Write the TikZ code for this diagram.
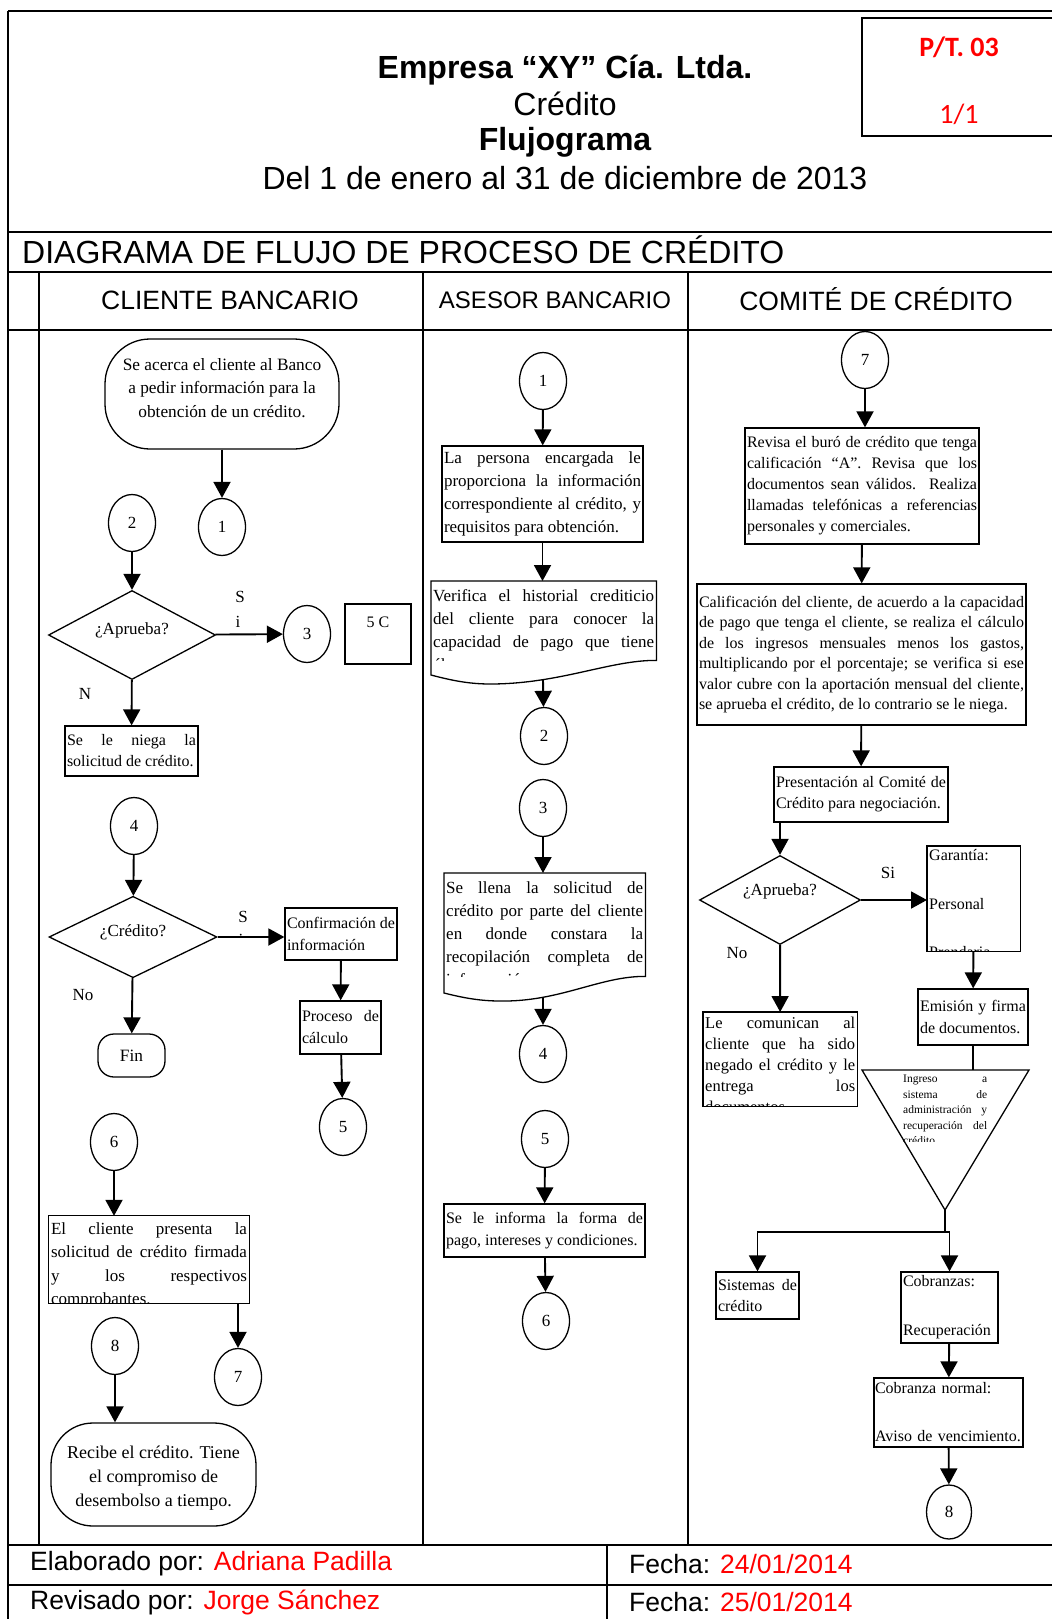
\documentclass[tikz,border=0pt]{standalone}
\usepackage{fontspec}
\setmainfont{Liberation Serif}
\newfontfamily\arialfont{Liberation Sans}
\newfontfamily\calibrifont{Carlito}
\usepackage{tikz}
\usetikzlibrary{arrows.meta}
\usetikzlibrary{shapes.geometric}
\usetikzlibrary{positioning}
\hyphenpenalty=10000
\exhyphenpenalty=10000
\tolerance=10000
\tikzset{gridline/.style = {line width = 1.3pt}}
\tikzset{shapeline/.style = {line width = 1.3pt}}
\tikzset{procbox/.style = {draw, rectangle, line width = 1.3pt, inner xsep = 2pt, inner ysep = 3pt,
                           align = justify, font = \fontsize{16}{21}\selectfont}}
\tikzset{txt/.style = {rectangle, inner xsep = 2pt, inner ysep = 3pt, align = justify,
                       font = \fontsize{16}{21}\selectfont}}
\tikzset{textarea/.style = {rectangle, inner sep = 0}}
\tikzset{termbox/.style = {draw, rectangle, line width = 1.3pt}}
\tikzset{termtext/.style = {inner sep = 0, align = center, font = \fontsize{17.3}{23.5}\selectfont}}
\tikzset{linkcircle/.style = {draw, ellipse, line width = 1.3pt, inner sep = 0,
                              minimum width = 47, minimum height = 57,
                              font = \fontsize{17}{20}\selectfont}}
\tikzset{askbox/.style = {draw, diamond, line width = 1.3pt, inner sep = 0,
                          font = \fontsize{17}{20}\selectfont}}
\tikzset{flow/.style = {-{Triangle[width = 17pt, length = 16pt]}, line width = 1.9pt}}
\tikzset{joint/.style = {line width = 1.9pt}}
\tikzset{lbl/.style = {inner sep = 0, font = \fontsize{17}{20}\selectfont}}
\tikzset{head/.style = {inner sep = 0, font = \arialfont\fontsize{32}{38}\selectfont}}
\tikzset{lane/.style = {inner sep = 0, font = \arialfont\fontsize{26.5}{30}\selectfont}}
\tikzset{foot/.style = {anchor = west, inner sep = 0, font = \arialfont\fontsize{26.5}{30}\selectfont}}
\tikzset{pagecode/.style = {inner sep = 0, text = red, font = \calibrifont\fontsize{28}{32}\selectfont}}
\newcommand{\liftup}[2]{\raisebox{#1}[\height][\depth]{#2}}

\begin{document}
\begin{tikzpicture}[x = 1pt, y = -1pt]
      \useasboundingbox (0, 0) rectangle (1052, 1619);

      \draw [gridline] (8, 11) -- (1052, 11);
      \draw [gridline] (8, 11) -- (8, 1619);
      \draw [gridline] (8, 232) -- (1052, 232);
      \draw [gridline] (8, 272) -- (1052, 272);
      \draw [gridline] (8, 330) -- (1052, 330);
      \draw [gridline] (39, 272) -- (39, 1545);
      \draw [gridline] (423, 272) -- (423, 1545);
      \draw [gridline] (688, 272) -- (688, 1545);
      \draw [gridline] (8, 1545) -- (1052, 1545);
      \draw [gridline] (8, 1585) -- (1052, 1585);
      \draw [gridline] (607, 1545) -- (607, 1619);
      \draw [gridline] (1052, 18) -- (862, 18) -- (862, 136) -- (1052, 136);

      \node [head, font = \arialfont\bfseries\fontsize{32}{38}\selectfont] (firm) at (565, 70) {Empresa “XY” Cía. Ltda.};
      \node [head] (area) at (565, 104) {Crédito};
      \node [head, font = \arialfont\bfseries\fontsize{32}{38}\selectfont] (kind) at (565, 142) {Flujograma};
      \node [head] (period) at (565, 178) {Del 1 de enero al 31 de diciembre de 2013};
      \node [pagecode, font = \calibrifont\bfseries\fontsize{28}{32}\selectfont] (ref) at (959, 47) {P/T. 03};
      \node [pagecode] (page) at (959, 114) {1/1};
      \node [head, anchor = west] (diag) at (22, 250) {DIAGRAMA DE FLUJO DE PROCESO DE CRÉDITO};
      \node [lane] (laneA) at (230, 300) {CLIENTE BANCARIO};
      \node [lane, font = \arialfont\fontsize{24}{28}\selectfont] (laneB) at (555, 300) {ASESOR BANCARIO};
      \node [lane] (laneC) at (876, 299) {COMITÉ DE CRÉDITO};

      \node [termbox, rounded corners = 45pt, minimum width = 234, minimum height = 110] (start) at (222, 394) {};
      \node [termtext] (startt) at (222, 388) {Se acerca el cliente al Banco\\ a pedir información para la\\ obtención de un crédito.};
      \node [linkcircle] (c1a) at (222, 527) {1};
      \node [linkcircle] (c2a) at (132, 523) {2};
      \node [askbox, minimum width = 167, minimum height = 76] (ask1) at (132, 635) {\liftup{5pt}{¿Aprueba?}};
      \node [linkcircle] (c3a) at (307, 634) {3};
      \node [procbox, minimum width = 66, minimum height = 60,
             label = {[lbl, font = \fontsize{16}{20}\selectfont, anchor = north, yshift = -13pt]north:5 C}] (fivec) at (378, 634) {};
      \node [lbl] (si1) at (240, 597) {S};
      \node [lbl] (si1b) at (238, 622) {i};
      \node [lbl] (no1) at (85, 694) {N};
      \node [procbox, text width = 129, minimum height = 50] (deny) at (131.5, 751)
            {Se le niega la\linebreak solicitud de crédito.};
      \node [linkcircle] (c4a) at (134, 826) {4};
      \node [askbox, minimum width = 168, minimum height = 76] (ask2) at (133, 937) {\liftup{5pt}{¿Crédito?}};
      \begin{scope}
        \clip (225, 900) rectangle (262, 936);
        \node [lbl] (si2) at (243, 917) {S};
        \node [lbl] (si2b) at (241, 940) {i};
      \end{scope}
      \node [procbox, text width = 108, minimum height = 52, font = \fontsize{16}{22}\selectfont] (conf) at (341, 934)
            {Confirmación de\linebreak información};
      \node [procbox, text width = 77, minimum height = 53, font = \fontsize{16}{22}\selectfont] (calc) at (340.5, 1027.5)
            {Proceso de\linebreak cálculo};
      \node [linkcircle] (c5a) at (343, 1127) {5};
      \node [lbl] (no2) at (83, 995) {No};
      \node [termbox, rounded corners = 16pt, minimum width = 67, minimum height = 43] (fin) at (131.5, 1055.5) {};
      \node [termtext] (fint) at (131.5, 1055.5) {Fin};
      \node [linkcircle] (c6a) at (114, 1142) {6};
      \node [textarea, minimum width = 200, minimum height = 87] (clnt) at (149, 1259.5) {};
      \begin{scope}
        \clip (clnt.north west) rectangle (clnt.south east);
        \node [txt, text width = 196, inner ysep = 6.5pt, anchor = north west, font = \fontsize{17}{23.4}\selectfont] (clntt) at (clnt.north west)
              {El cliente presenta la\linebreak solicitud de crédito firmada\linebreak y los respectivos\linebreak comprobantes.};
      \end{scope}
      \draw [shapeline] (clnt.north west) rectangle (clnt.south east);
      \node [linkcircle] (c7a) at (238, 1377) {7};
      \node [linkcircle] (c8a) at (115, 1346) {8};
      \node [termbox, rounded corners = 42pt, minimum width = 205, minimum height = 103] (recv) at (153.5, 1474.5) {};
      \node [termtext, font = \fontsize{18}{24}\selectfont] (recvt) at (153.5, 1478)
            {Recibe el crédito. Tiene\\ el compromiso de\\ desembolso a tiempo.};

      \draw [flow] (start) -- (c1a);
      \draw [flow] (c2a) -- (ask1);
      \draw [flow] (ask1) -- (c3a);
      \draw [flow] (ask1) -- (deny);
      \draw [flow] (c4a) -- (ask2);
      \draw [flow] (ask2.east) -- (ask2.east -| conf.west);
      \draw [flow] (conf) -- (calc);
      \draw [flow] (calc) -- (c5a);
      \draw [flow] (ask2) -- (fin);
      \draw [flow] (c6a.south) -- (c6a.south |- clnt.north);
      \draw [flow] (c7a.north |- clnt.south) -- (c7a.north);
      \draw [flow] (c8a.south) -- (c8a.south |- recv.north);

      \node [linkcircle] (c1b) at (543, 381) {1};
      \node [procbox, text width = 197, minimum height = 96, font = \fontsize{17}{23}\selectfont] (info) at (542.5, 494)
            {La persona encargada le\linebreak proporciona la información\linebreak correspondiente al crédito, y\linebreak requisitos para obtención.};
      \node [textarea, minimum width = 225, minimum height = 79, anchor = north west] (doc1) at (431, 581) {};
      \begin{scope}
        \clip (doc1.north west) rectangle (doc1.south east);
        \node [txt, text width = 221, inner ysep = 8pt, anchor = north west, font = \fontsize{17}{23}\selectfont] (doc1t) at (doc1.north west)
              {Verifica el historial crediticio\linebreak del cliente para conocer la\linebreak capacidad de pago que tiene\linebreak él.};
      \end{scope}
      \draw [shapeline] (doc1.north west) -- (doc1.north east) -- (doc1.south east)
            .. controls (610, 660) and (560, 684) .. (490, 684)
            .. controls (468, 684) and (450, 680) .. (431, 675) -- cycle;
      \coordinate (doc1b) at (543, 680);
      \node [linkcircle] (c2b) at (544, 736) {2};
      \node [linkcircle] (c3b) at (543, 808) {3};
      \node [textarea, minimum width = 201, minimum height = 103, anchor = north west] (doc2) at (444, 873) {};
      \begin{scope}
        \clip (doc2.north west) rectangle (doc2.south east);
        \node [txt, text width = 197, inner ysep = 8pt, anchor = north west, font = \fontsize{17}{23}\selectfont] (doc2t) at (doc2.north west)
              {Se llena la solicitud de\linebreak crédito por parte del cliente\linebreak en donde constara la\linebreak recopilación completa de\linebreak información.};
      \end{scope}
      \draw [shapeline] (doc2.north west) -- (doc2.north east) -- (doc2.south east)
            .. controls (600, 976) and (560, 1002) .. (500, 1001)
            .. controls (478, 1001) and (460, 997) .. (444, 993) -- cycle;
      \coordinate (doc2b) at (543, 997);
      \node [linkcircle] (c4b) at (543, 1054) {4};
      \node [linkcircle] (c5b) at (545, 1139) {5};
      \node [procbox, text width = 197, minimum height = 53, font = \fontsize{16}{22}\selectfont] (tell) at (544.5, 1230.5)
            {Se le informa la forma de\linebreak pago, intereses y condiciones.};
      \node [linkcircle] (c6b) at (546, 1321) {6};

      \draw [flow] (c1b) -- (info);
      \draw [flow] (info) -- (info |- doc1.north);
      \draw [flow] (doc1b) -- (c2b);
      \draw [flow] (c3b) -- (c3b |- doc2.north);
      \draw [flow] (doc2b) -- (c4b);
      \draw [flow] (c5b) -- (tell);
      \draw [flow] (tell) -- (c6b);

      \node [linkcircle] (c7c) at (865, 360) {7};
      \node [procbox, text width = 230, minimum height = 116] (rev) at (862, 486)
            {Revisa el buró de crédito que tenga\linebreak calificación “A”. Revisa que los\linebreak documentos sean válidos. Realiza\linebreak llamadas telefónicas a referencias\linebreak personales y comerciales.};
      \node [procbox, text width = 325, minimum height = 141, font = \fontsize{16}{20.5}\selectfont] (calif) at (861.5, 654.5)
            {Calificación del cliente, de acuerdo a la capacidad\linebreak de pago que tenga el cliente, se realiza el cálculo\linebreak de los ingresos mensuales menos los gastos,\linebreak multiplicando por el porcentaje; se verifica si ese\linebreak valor cubre con la aportación mensual del cliente,\linebreak se aprueba el crédito, de lo contrario se le niega.};
      \node [procbox, text width = 170, minimum height = 55] (pres) at (861, 794.5)
            {Presentación al Comité de\linebreak Crédito para negociación.};
      \node [askbox, minimum width = 161, minimum height = 74] (ask3) at (780, 900) {\liftup{9pt}{¿Aprueba?}};
      \node [lbl] (si3) at (888, 873) {Si};
      \node [lbl] (no3) at (737, 953) {No};
      \node [textarea, minimum width = 93, minimum height = 105, anchor = north west] (gar) at (927, 846) {};
      \begin{scope}
        \clip (gar.north west) rectangle (gar.south east);
        \node [txt, align = left, text width = 89, anchor = north west, font = \fontsize{16}{24.4}\selectfont] (gart) at (gar.north west)
              {Garantía:\\ \mbox{}\\ Personal\\ \mbox{}\\ Prendaria};
      \end{scope}
      \draw [shapeline] (gar.north west) rectangle (gar.south east);
      \node [textarea, minimum width = 154, minimum height = 94, anchor = north west] (comu) at (703, 1012) {};
      \begin{scope}
        \clip (comu.north west) rectangle (comu.south east);
        \node [txt, text width = 150, inner ysep = 5pt, anchor = north west, font = \fontsize{16.5}{21}\selectfont] (comut) at (comu.north west)
              {Le comunican al\linebreak cliente que ha sido\linebreak negado el crédito y le\linebreak entrega los\linebreak documentos.};
      \end{scope}
      \draw [shapeline] (comu.north west) rectangle (comu.south east);
      \node [procbox, text width = 106, minimum height = 56, font = \fontsize{16}{22}\selectfont] (emis) at (973, 1017)
            {Emisión y firma\linebreak de documentos.};
      \coordinate (mtop) at (973, 1070);
      \coordinate (mapex) at (945, 1210);
      \coordinate (split) at (945, 1232);
      \draw [shapeline] (862, 1070) -- (1029, 1070) -- (mapex) -- cycle;
      \begin{scope}
        \clip (903, 1072) rectangle (990, 1141);
        \node [txt, inner sep = 0, text width = 84, anchor = north west, font = \fontsize{11.5}{15.5}\selectfont] (mergt) at (903, 1075)
              {Ingreso a\linebreak sistema de\linebreak administración y\linebreak recuperación del\linebreak crédito.};
      \end{scope}
      \node [procbox, text width = 79, minimum height = 47] (sist) at (757.5, 1295.5) {Sistemas de\linebreak crédito};
      \node [procbox, align = left, text width = 93, minimum height = 71, font = \fontsize{16}{24.5}\selectfont] (cobr) at (949.5, 1307.5)
            {Cobranzas:\\ \mbox{}\\ Recuperación};
      \node [procbox, align = left, inner xsep = 1pt, text width = 147, minimum height = 69, font = \fontsize{16}{24}\selectfont] (norm) at (948.5, 1412.5)
            {Cobranza normal:\\ \mbox{}\\ Aviso de vencimiento.};
      \node [linkcircle, minimum width = 45, minimum height = 54] (c8c) at (949, 1512) {8};

      \draw [flow] (c7c) -- (c7c |- rev.north);
      \draw [flow] (rev) -- (calif);
      \draw [flow] (calif) -- (pres);
      \draw [flow] (ask3 |- pres.south) -- (ask3);
      \draw [flow] (ask3.east) -- (ask3.east -| gar.west);
      \draw [flow] (ask3) -- (comu);
      \draw [flow] (gar) -- (emis);
      \draw [joint] (emis) -- (mtop);
      \draw [joint] (mapex) -- (split);
      \draw [flow] (split) -| (sist);
      \draw [flow] (split) -| (cobr);
      \draw [flow] (cobr) -- (norm);
      \draw [flow] (norm) -- (c8c);

      \node [foot] (made) at (30, 1564) {Elaborado por: \textcolor{red}{Adriana Padilla}};
      \node [foot] (made date) at (629, 1564) {Fecha: \textcolor{red}{24/01/2014}};
      \node [foot] (check) at (30, 1602) {Revisado por: \textcolor{red}{Jorge Sánchez}};
      \node [foot] (check date) at (629, 1602) {Fecha: \textcolor{red}{25/01/2014}};
\end{tikzpicture}
\end{document}
